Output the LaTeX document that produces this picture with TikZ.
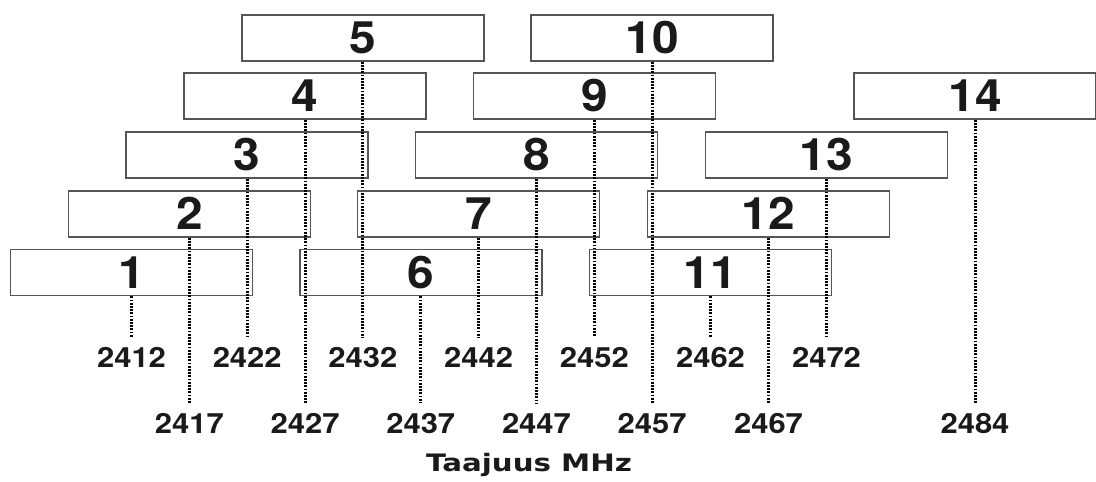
\documentclass[tikz,border=0pt]{standalone}
\usepackage{fontspec}
\usepackage{graphicx}
\setmainfont{TeX Gyre Heros}
\newfontfamily\numfont{TeX Gyre Heros}
\newfontfamily\axisfont{DejaVu Sans}
\definecolor{boxgray}{HTML}{555555}
\definecolor{ink}{HTML}{1A1A1A}
\begin{document}
\begin{tikzpicture}[x=1pt,y=-1pt,
  chbox/.style={draw=boxgray, line width=1.6pt, minimum width=242pt, minimum height=46pt,
    inner sep=0pt, text height=31.7pt, text depth=0pt, text=ink,
    font=\numfont\bfseries\fontsize{44.7}{48}\selectfont},
  freqlab/.style={inner sep=0pt, text height=20pt, text depth=0pt, text=ink,
    font=\numfont\bfseries\fontsize{27.9}{30}\selectfont},
  dotline/.style={draw=black, line width=3pt, dash pattern=on 1.8pt off 1.4pt, shorten >=9.5pt}]
\useasboundingbox (0,0) rectangle (1096,482);
\foreach \n/\x/\y/\f/\ly in {
  1/131.5/272.5/2412/357, 2/189.35/214/2417/423, 3/247.2/155/2422/357,
  4/305.05/96/2427/423, 5/362.9/38/2432/357, 6/420.75/272.5/2437/423,
  7/478.6/214/2442/357, 8/536.45/155/2447/423, 9/594.3/96/2452/357,
  10/652.15/38/2457/423, 11/710.5/272.5/2462/357, 12/768.5/214/2467/423,
  13/826.5/155/2472/357, 14/975/96/2484/423}{
  \node[chbox] (c\n) at (\x,\y) {\scalebox{1.07}[1]{\n}};
  \node[freqlab] (l\n) at (\x,\ly) {\scalebox{1.11}[1]{\f}};
  \draw[dotline] (c\n.south) -- (l\n.north);
}
\node[anchor=base, inner sep=0pt, text=ink, font=\axisfont\bfseries\fontsize{24}{28}\selectfont]
  (axis) at (529,471) {\scalebox{1.22}[1]{Taajuus MHz}};
\end{tikzpicture}
\end{document}
